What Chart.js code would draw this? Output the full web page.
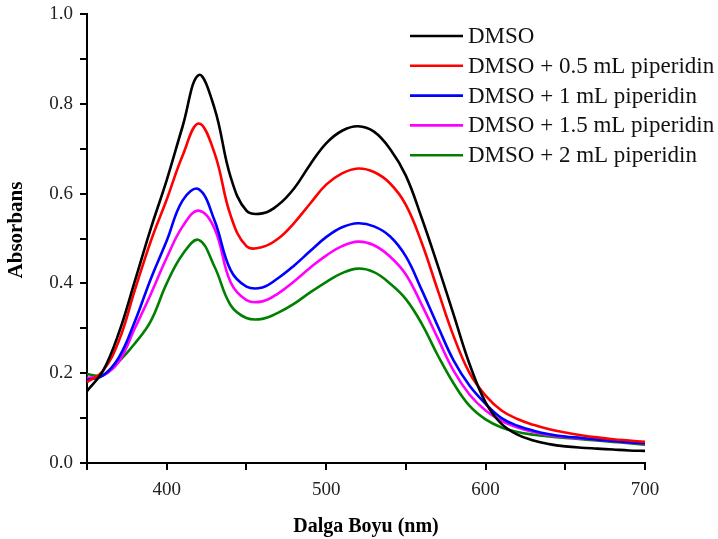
<!DOCTYPE html>
<html>
<head>
<meta charset="utf-8">
<script src="https://cdn.jsdelivr.net/npm/chart.js@4.4.1/dist/chart.umd.min.js"></script>
<style>
  html, body { margin: 0; padding: 0; background: #fff; }
  #wrap { width: 718px; height: 539px; position: relative; }
</style>
</head>
<body>
<div id="wrap"><canvas id="c" width="718" height="539"></canvas></div>
<script>
const wavelengths = [350,360,370,380,390,400,410,420,430,440,450,460,470,480,490,500,510,520,530,540,550,560,570,580,590,600,610,620,630,640,650,660,670,680,690,700];

const seriesLabels = ["DMSO", "DMSO + 0.5 mL piperidin", "DMSO + 1 mL piperidin", "DMSO + 1.5 mL piperidin", "DMSO + 2 mL piperidin"];
const seriesColors = ["#000000", "#ff0000", "#0000ff", "#ff00ff", "#008000"];

const dmso  = [0.16,0.205,0.29,0.405,0.522,0.63,0.75,0.864,0.79,0.638,0.562,0.556,0.575,0.612,0.665,0.712,0.740,0.750,0.738,0.700,0.640,0.545,0.440,0.330,0.220,0.135,0.087,0.063,0.050,0.042,0.037,0.034,0.032,0.030,0.028,0.027];
const pip05 = [0.18,0.205,0.272,0.385,0.494,0.587,0.685,0.756,0.690,0.552,0.483,0.481,0.500,0.535,0.578,0.620,0.645,0.656,0.648,0.623,0.575,0.490,0.385,0.282,0.200,0.150,0.117,0.098,0.085,0.075,0.068,0.062,0.057,0.053,0.050,0.047];
const pip1  = [0.185,0.195,0.235,0.315,0.410,0.495,0.585,0.610,0.540,0.430,0.393,0.391,0.412,0.440,0.472,0.503,0.525,0.534,0.527,0.505,0.460,0.385,0.305,0.228,0.172,0.132,0.100,0.083,0.072,0.064,0.059,0.056,0.052,0.049,0.046,0.044];
const pip15 = [0.19,0.195,0.226,0.300,0.376,0.457,0.527,0.562,0.522,0.403,0.363,0.360,0.378,0.405,0.435,0.462,0.483,0.493,0.485,0.460,0.420,0.352,0.278,0.205,0.152,0.117,0.094,0.079,0.069,0.062,0.058,0.055,0.052,0.049,0.046,0.044];
const pip2  = [0.198,0.195,0.226,0.266,0.316,0.400,0.465,0.497,0.437,0.352,0.323,0.321,0.335,0.355,0.380,0.403,0.423,0.433,0.425,0.400,0.365,0.310,0.240,0.177,0.127,0.097,0.079,0.069,0.063,0.059,0.056,0.053,0.050,0.047,0.044,0.041];

const seriesValues = [dmso, pip05, pip1, pip15, pip2];

const xTicksLabeled = [400, 500, 600, 700];
const yTicksLabeled = [0.0, 0.2, 0.4, 0.6, 0.8, 1.0];
const xTitle = 'Dalga Boyu (nm)';
const yTitle = 'Absorbans';

const datasets = seriesValues.map((vals, i) => ({
  label: seriesLabels[i],
  data: vals.map((v, j) => ({ x: wavelengths[j], y: v })),
  borderColor: seriesColors[i],
  backgroundColor: seriesColors[i],
  borderWidth: 2.6,
  pointRadius: 0,
  tension: 0.4,
  fill: false
}));

const serif = '"Liberation Serif", "Times New Roman", serif';

const legendPlugin = {
  id: 'insideLegend',
  afterDraw(chart) {
    const ctx = chart.ctx;
    ctx.save();
    ctx.font = '23px ' + serif;
    ctx.textBaseline = 'middle';
    ctx.textAlign = 'left';
    chart.data.datasets.forEach((ds, i) => {
      const y = 36 + i * 29.8;
      ctx.strokeStyle = ds.borderColor;
      ctx.lineWidth = 2.6;
      ctx.beginPath();
      ctx.moveTo(410, y);
      ctx.lineTo(463, y);
      ctx.stroke();
      ctx.fillStyle = '#111';
      ctx.fillText(ds.label, 468, y + 1);
    });
    // y-axis title
    ctx.font = 'bold 21px ' + serif;
    ctx.fillStyle = '#000';
    ctx.textAlign = 'center';
    ctx.textBaseline = 'middle';
    ctx.translate(17, 230);
    ctx.rotate(-Math.PI / 2);
    ctx.fillText(yTitle, 0, 0);
    ctx.restore();
  }
};

const tickFont = { family: serif, size: 19 };
const titleFont = { family: serif, size: 20, weight: 'bold' };

new Chart(document.getElementById('c'), {
  type: 'line',
  data: { datasets },
  plugins: [legendPlugin],
  options: {
    responsive: false,
    animation: false,
    devicePixelRatio: 1,
    layout: { padding: { left: 0, top: 14, right: 73, bottom: 0 } },
    plugins: { legend: { display: false }, tooltip: { enabled: false } },
    scales: {
      x: {
        type: 'linear',
        min: 350, max: 700,
        afterFit(scale) { scale.height = 76; },
        ticks: {
          stepSize: 50,
          color: '#222',
          font: tickFont,
          padding: 9,
          maxRotation: 0,
          callback: (v) => xTicksLabeled.includes(v) ? String(v) : ''
        },
        grid: { drawOnChartArea: false, drawTicks: true, tickLength: 7, color: '#000', lineWidth: 2 },
        border: { display: true, color: '#000', width: 2 },
        title: { display: true, text: xTitle, color: '#000', font: titleFont, padding: { top: 0, bottom: 0 } }
      },
      y: {
        min: 0, max: 1,
        afterFit(scale) { scale.width = 87; scale.paddingTop = 0; scale.paddingBottom = 0; },
        ticks: {
          stepSize: 0.1,
          color: '#222',
          font: tickFont,
          padding: 7,
          callback: (v) => {
            const r = Math.round(v * 10) / 10;
            return yTicksLabeled.some(t => Math.abs(t - r) < 1e-9) ? r.toFixed(1) : '';
          }
        },
        grid: { drawOnChartArea: false, drawTicks: true, tickLength: 7, color: '#000', lineWidth: 2 },
        border: { display: true, color: '#000', width: 2 },
        title: { display: false }
      }
    }
  }
});
</script>
</body>
</html>
